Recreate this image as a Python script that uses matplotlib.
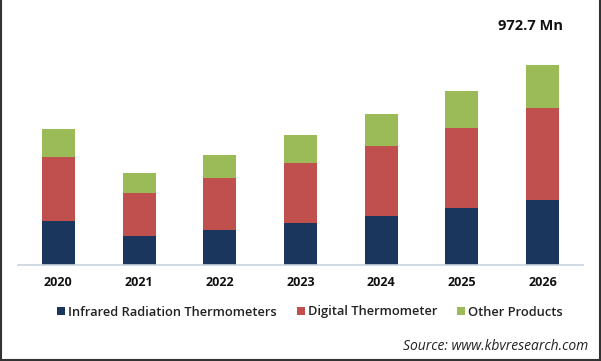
import matplotlib
matplotlib.use("Agg")
import matplotlib.pyplot as plt
from matplotlib.patches import Patch
from matplotlib.lines import Line2D

years = ["2020", "2021", "2022", "2023", "2024", "2025", "2026"]
infrared = [214.0, 141.0, 170.2, 205.7, 239.8, 277.2, 316.1]
digital = [312.7, 210.6, 252.9, 291.8, 339.0, 389.1, 447.5]
other = [134.7, 97.3, 113.3, 134.7, 155.6, 180.0, 209.1]
series_names = ["Infrared Radiation Thermometers", "Digital Thermometer", "Other Products"]
colors = ["#1B365D", "#C0504D", "#9BBB59"]
annot_text = "972.7 Mn"

plt.rcParams["font.family"] = ["Open Sans", "DejaVu Sans"]

fig = plt.figure(figsize=(6.01, 3.61), dpi=100)
W, H = 601, 361
ax = fig.add_axes([18 / W, (H - 265) / H, (583 - 18) / W, (265 - 20) / H])

x = list(range(len(years)))
bottom2 = [a + b for a, b in zip(infrared, digital)]
ax.bar(x, infrared, width=0.41, color=colors[0])
ax.bar(x, digital, width=0.41, bottom=infrared, color=colors[1])
ax.bar(x, other, width=0.41, bottom=bottom2, color=colors[2])

ax.set_xlim(-0.5, 6.5)
ax.set_ylim(0, 245 * 972.7 / 200)
ax.set_xticks(x)
ax.set_xticklabels(years, fontsize=9, fontweight="bold", color="#111111")
ax.tick_params(axis="x", length=0, pad=8)
ax.set_yticks([])
for s in ["left", "right", "top"]:
    ax.spines[s].set_visible(False)
ax.spines["bottom"].set_color("#C9D3DE")
ax.spines["bottom"].set_linewidth(1.2)

total_last = infrared[-1] + digital[-1] + other[-1]
ax.annotate(annot_text, xy=(6, total_last), xytext=(-9, 23), textcoords="offset points",
            ha="center", va="bottom", fontsize=10.5, fontweight="bold", color="#111111")

handles = [Patch(facecolor=c, edgecolor="none") for c in colors]
fig.legend(handles, series_names, loc="center", bbox_to_anchor=(310 / W, (H - 312) / H),
           ncol=3, frameon=False, prop={"size": 9.3, "weight": "semibold"},
           handlelength=0.65, handleheight=0.65,
           handletextpad=0.25, columnspacing=1.5, labelcolor="#222222")

fig.text(588 / W, (H - 346) / H, "Source: www.kbvresearch.com", ha="right", va="center",
         fontsize=10, style="italic", color="#222222")

# border
for xs, ys in [([0.5 / W, 0.5 / W], [0, 1]), ([1 - 1 / W, 1 - 1 / W], [0, 1]), ([0, 1], [1 / H, 1 / H])]:
    fig.add_artist(Line2D(xs, ys, color="#333333", linewidth=1.5, transform=fig.transFigure))

fig.savefig("out.png", dpi=100)
